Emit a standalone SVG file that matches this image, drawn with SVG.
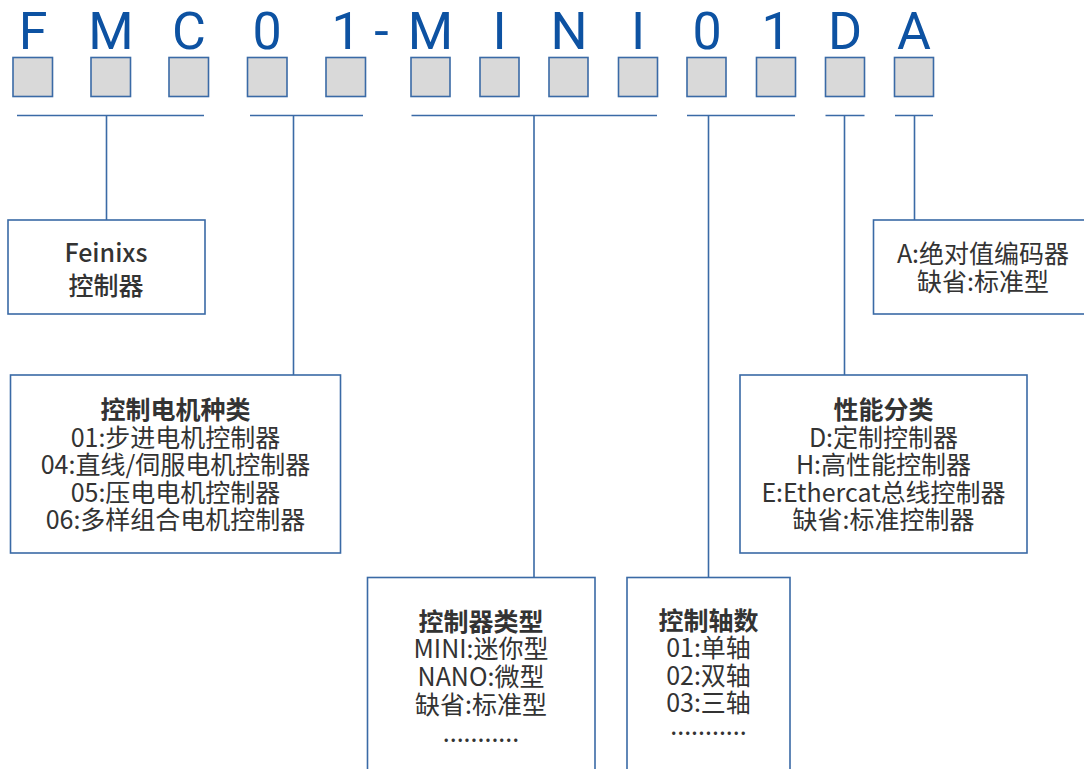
<svg xmlns="http://www.w3.org/2000/svg" width="1084" height="769" viewBox="0 0 1084 769">
<style>
.code{font-family:Roboto,"Liberation Sans",sans-serif;font-size:52px;fill:#0d52a2;text-anchor:middle}
.sq{fill:#d9d9d9;stroke:#3a6aa6;stroke-width:1.6}
.ln{stroke:#3a6aa6;stroke-width:1.6;fill:none}
.box{fill:#fff;stroke:#3a6aa6;stroke-width:1.6}
.t{font-family:"Noto Sans CJK SC","Noto Sans",sans-serif;font-size:25px;fill:#333;text-anchor:middle}
.b{font-weight:bold}
</style>
<rect width="1084" height="769" fill="#fff"/>
<g id="code">
<text class="code" x="33" y="49">F</text>
<text class="code" x="111" y="49">M</text>
<text class="code" x="189" y="49">C</text>
<text class="code" x="267" y="49">0</text>
<text class="code" x="346" y="49">1</text>
<text class="code" x="381.5" y="49">-</text>
<text class="code" x="430.5" y="49">M</text>
<text class="code" x="499.5" y="49">I</text>
<text class="code" x="569" y="49">N</text>
<text class="code" x="638" y="49">I</text>
<text class="code" x="707" y="49">0</text>
<text class="code" x="776" y="49">1</text>
<text class="code" x="845" y="49">D</text>
<text class="code" x="914" y="49">A</text>
</g>
<g id="slots">
<rect class="sq" x="13" y="57.5" width="39.5" height="39"/>
<rect class="sq" x="91" y="57.5" width="39.5" height="39"/>
<rect class="sq" x="169" y="57.5" width="39.5" height="39"/>
<rect class="sq" x="247.5" y="57.5" width="39.5" height="39"/>
<rect class="sq" x="326" y="57.5" width="39.5" height="39"/>
<rect class="sq" x="411" y="57.5" width="39" height="39"/>
<rect class="sq" x="480" y="57.5" width="39" height="39"/>
<rect class="sq" x="549" y="57.5" width="39" height="39"/>
<rect class="sq" x="618.5" y="57.5" width="39" height="39"/>
<rect class="sq" x="687" y="57.5" width="39" height="39"/>
<rect class="sq" x="756.5" y="57.5" width="39" height="39"/>
<rect class="sq" x="825.5" y="57.5" width="39" height="39"/>
<rect class="sq" x="894.5" y="57.5" width="39" height="39"/>
</g>
<g id="connectors">
<path class="ln" d="M17 115.5H204M106.5 115.5V220"/>
<path class="ln" d="M250 115.5H363M293.5 115.5V375"/>
<path class="ln" d="M411.5 115.5H657M534 115.5V577.5"/>
<path class="ln" d="M687 115.5H795M708.5 115.5V577.5"/>
<path class="ln" d="M825.5 115.5H864.5M844.5 115.5V375"/>
<path class="ln" d="M895 115.5H933M914.5 115.5V220"/>
</g>
<g id="node-feinixs">
<rect class="box" x="8" y="220" width="197" height="94"/>
<text class="t" x="106" y="262" font-weight="500">Feinixs</text>
<text class="t" x="106" y="295" font-weight="500">控制器</text>
</g>
<g id="node-motor">
<rect class="box" x="10.5" y="375" width="330" height="178"/>
<text class="t b" x="175.5" y="419">控制电机种类</text>
<text class="t" x="175.5" y="446.5">01:步进电机控制器</text>
<text class="t" x="175.5" y="474">04:直线/伺服电机控制器</text>
<text class="t" x="175.5" y="501.5">05:压电电机控制器</text>
<text class="t" x="175.5" y="529">06:多样组合电机控制器</text>
</g>
<g id="node-type">
<rect class="box" x="367.5" y="577.5" width="227.5" height="200"/>
<text class="t b" x="481" y="630.5">控制器类型</text>
<text class="t" x="481" y="658">MINI:迷你型</text>
<text class="t" x="481" y="686">NANO:微型</text>
<text class="t" x="481" y="713.5">缺省:标准型</text>
<text class="t" x="481" y="742">...........</text>
</g>
<g id="node-axis">
<rect class="box" x="627" y="577.5" width="163" height="200"/>
<text class="t b" x="708.5" y="629.5">控制轴数</text>
<text class="t" x="708.5" y="657">01:单轴</text>
<text class="t" x="708.5" y="684.5">02:双轴</text>
<text class="t" x="708.5" y="712">03:三轴</text>
<text class="t" x="708.5" y="735">...........</text>
</g>
<g id="node-perf">
<rect class="box" x="740" y="375" width="287" height="178"/>
<text class="t b" x="883.5" y="419">性能分类</text>
<text class="t" x="883.5" y="446.5">D:定制控制器</text>
<text class="t" x="883.5" y="474">H:高性能控制器</text>
<text class="t" x="883.5" y="501.5">E:Ethercat总线控制器</text>
<text class="t" x="883.5" y="529">缺省:标准控制器</text>
</g>
<g id="node-encoder">
<rect class="box" x="873.5" y="220" width="220" height="94"/>
<text class="t" x="983" y="263">A:绝对值编码器</text>
<text class="t" x="983" y="290.5">缺省:标准型</text>
</g>
</svg>
